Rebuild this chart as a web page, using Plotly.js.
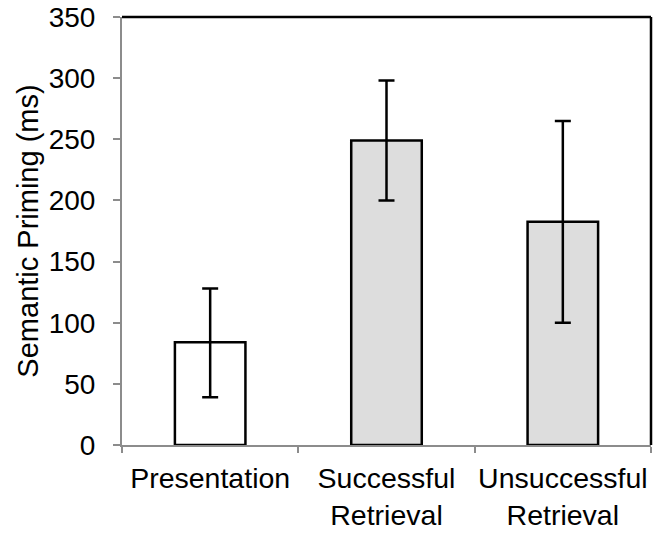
<!DOCTYPE html>
<html>
<head>
<meta charset="utf-8">
<script src="https://cdn.plot.ly/plotly-3.0.1.min.js"></script>
<style>html,body{margin:0;padding:0;background:#fff;}#chart{width:653px;height:535px;}</style>
</head>
<body>
<div id="chart"></div>
<script>
const categories = ["Presentation", "Successful Retrieval", "Unsuccessful Retrieval"];
const tickLabels = ["Presentation", "Successful<br>Retrieval", "Unsuccessful<br>Retrieval"];
const priming = [84, 249, 182.5];
const errPlus = [44, 49, 82.5];
const errMinus = [45, 49, 82.5];
const barColors = ["#ffffff", "#dddddd", "#dddddd"];
const yTicks = [0, 50, 100, 150, 200, 250, 300, 350];

const mkFont = (s) => ({family: "Liberation Sans, Arial, Helvetica, sans-serif", size: s, color: "#000"});

const trace = {
  type: "bar",
  x: categories,
  y: priming,
  width: 0.4,
  marker: {color: barColors, line: {color: "#000", width: 2.5}},
  error_y: {type: "data", symmetric: false, array: errPlus, arrayminus: errMinus, color: "#000", thickness: 2.5, width: 8},
  hoverinfo: "none"
};

const layout = {
  width: 653, height: 535,
  margin: {l: 122, r: 2, t: 17, b: 90},
  paper_bgcolor: "#fff", plot_bgcolor: "#fff",
  font: mkFont(28),
  showlegend: false,
  xaxis: {
    type: "category",
    tickmode: "array", tickvals: categories, ticktext: tickLabels,
    tickson: "boundaries", tickangle: 0,
    ticks: "outside", ticklen: 6, tickwidth: 2, tickcolor: "#8c8c8c",
    showline: true, linecolor: "#8c8c8c", linewidth: 2,
    showgrid: false, zeroline: false,
    tickfont: mkFont(28.5), ticklabelstandoff: 7,
    range: [-0.5, 2.5], automargin: false, fixedrange: true
  },
  yaxis: {
    range: [0, 350],
    tickmode: "array", tickvals: yTicks,
    ticks: "outside", ticklen: 7, tickwidth: 2, tickcolor: "#8c8c8c",
    showline: true, linecolor: "#8c8c8c", linewidth: 2,
    showgrid: false, zeroline: false,
    tickfont: mkFont(28), ticklabelstandoff: 12,
    title: {text: "Semantic Priming (ms)", font: mkFont(29), standoff: 2},
    automargin: false, fixedrange: true
  },
  shapes: [
    {type: "line", xref: "paper", yref: "paper", x0: 0, x1: 1, y0: 1, y1: 1, line: {color: "#000", width: 2.5}},
    {type: "line", xref: "paper", yref: "paper", x0: 1, x1: 1, y0: 1, y1: 0, line: {color: "#000", width: 2.5}}
  ]
};

Plotly.newPlot("chart", [trace], layout, {displayModeBar: false, staticPlot: true});
</script>
</body>
</html>
